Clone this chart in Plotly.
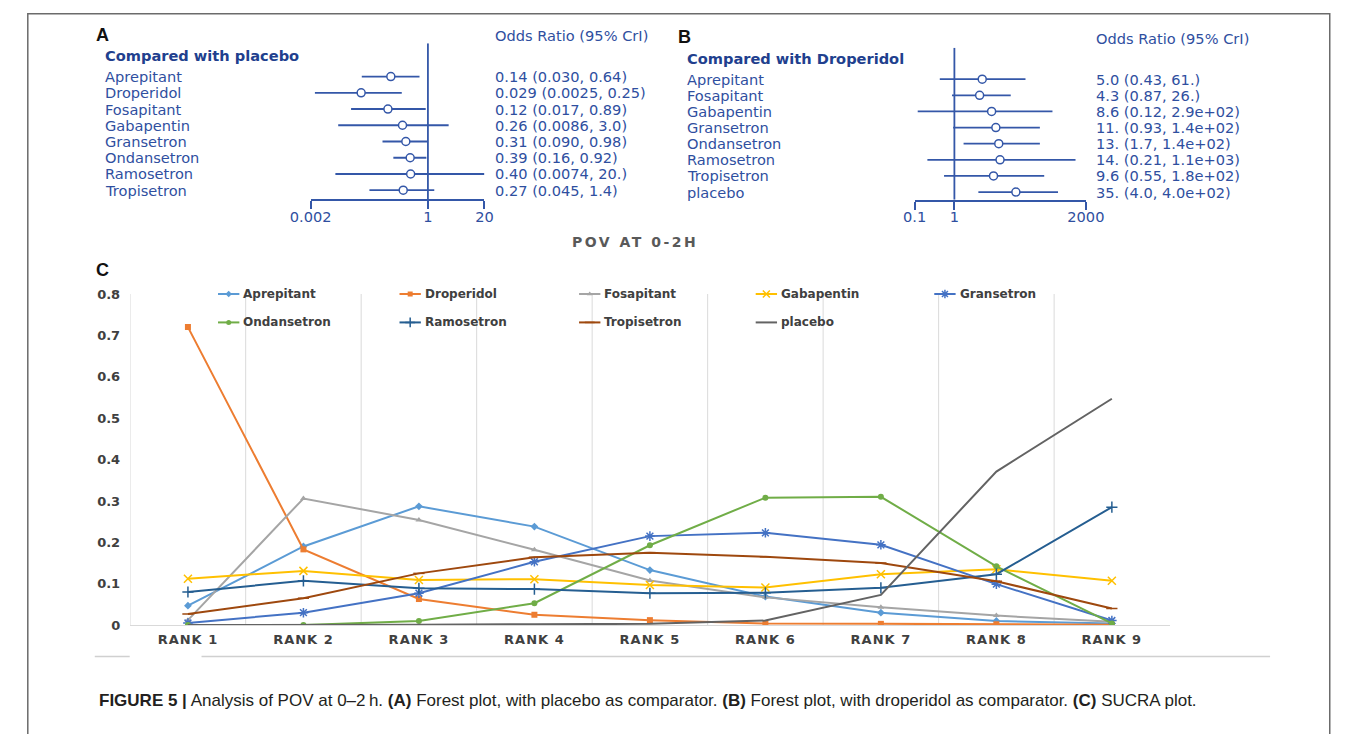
import plotly.graph_objects as go

W, H = 1357, 734

# ---------------- Panel A: odds ratios, placebo as comparator ----------------
a_drugs = ["Aprepitant", "Droperidol", "Fosapitant", "Gabapentin",
           "Gransetron", "Ondansetron", "Ramosetron", "Tropisetron"]
a_or = [0.14, 0.029, 0.12, 0.26, 0.31, 0.39, 0.40, 0.27]
a_lo = [0.030, 0.0025, 0.017, 0.0086, 0.090, 0.16, 0.0074, 0.045]
a_hi = [0.64, 0.25, 0.89, 3.0, 0.98, 0.92, 20.0, 1.4]
a_text = ["0.14 (0.030, 0.64)", "0.029 (0.0025, 0.25)", "0.12 (0.017, 0.89)",
          "0.26 (0.0086, 3.0)", "0.31 (0.090, 0.98)", "0.39 (0.16, 0.92)",
          "0.40 (0.0074, 20.)", "0.27 (0.045, 1.4)"]
a_ticks = [0.002, 1, 20]
a_ticktext = ["0.002", "1", "20"]

# ---------------- Panel B: odds ratios, droperidol as comparator -------------
b_drugs = ["Aprepitant", "Fosapitant", "Gabapentin", "Gransetron",
           "Ondansetron", "Ramosetron", "Tropisetron", "placebo"]
b_or = [5.0, 4.3, 8.6, 11.0, 13.0, 14.0, 9.6, 35.0]
b_lo = [0.43, 0.87, 0.12, 0.93, 1.7, 0.21, 0.55, 4.0]
b_hi = [61.0, 26.0, 290.0, 140.0, 140.0, 1100.0, 180.0, 400.0]
b_text = ["5.0 (0.43, 61.)", "4.3 (0.87, 26.)", "8.6 (0.12, 2.9e+02)",
          "11. (0.93, 1.4e+02)", "13. (1.7, 1.4e+02)", "14. (0.21, 1.1e+03)",
          "9.6 (0.55, 1.8e+02)", "35. (4.0, 4.0e+02)"]
b_ticks = [0.1, 1, 2000]
b_ticktext = ["0.1", "1", "2000"]

# ---------------- Panel C: rank probabilities (SUCRA) ------------------------
ranks = ["RANK 1", "RANK 2", "RANK 3", "RANK 4", "RANK 5",
         "RANK 6", "RANK 7", "RANK 8", "RANK 9"]
aprepitant = [0.047, 0.190, 0.287, 0.238, 0.133, 0.069, 0.030, 0.010, 0.004]
droperidol = [0.720, 0.183, 0.063, 0.025, 0.012, 0.004, 0.003, 0.002, 0.001]
fosapitant = [0.012, 0.306, 0.254, 0.182, 0.108, 0.067, 0.043, 0.023, 0.008]
gabapentin = [0.112, 0.131, 0.109, 0.111, 0.097, 0.091, 0.123, 0.135, 0.107]
gransetron = [0.005, 0.030, 0.077, 0.153, 0.215, 0.223, 0.194, 0.099, 0.011]
ondansetron = [0.000, 0.000, 0.010, 0.053, 0.193, 0.308, 0.310, 0.142, 0.004]
ramosetron = [0.080, 0.107, 0.089, 0.087, 0.077, 0.078, 0.090, 0.123, 0.285]
tropisetron = [0.027, 0.065, 0.125, 0.164, 0.175, 0.165, 0.150, 0.106, 0.040]
placebo = [0.000, 0.000, 0.001, 0.002, 0.003, 0.011, 0.073, 0.371, 0.547]
y_ticks = [0, 0.1, 0.2, 0.3, 0.4, 0.5, 0.6, 0.7, 0.8]
y_ticktext = ["0", "0.1", "0.2", "0.3", "0.4", "0.5", "0.6", "0.7", "0.8"]

series = [
    ("Aprepitant", aprepitant, "#5b9bd5", "diamond"),
    ("Droperidol", droperidol, "#ed7d31", "square"),
    ("Fosapitant", fosapitant, "#a5a5a5", "triangle-up"),
    ("Gabapentin", gabapentin, "#ffc000", "x-thin-open"),
    ("Gransetron", gransetron, "#4472c4", "asterisk-open"),
    ("Ondansetron", ondansetron, "#70ad47", "circle"),
    ("Ramosetron", ramosetron, "#255e91", "cross-thin-open"),
    ("Tropisetron", tropisetron, "#9e480e", "line-ew-open"),
    ("placebo", placebo, "#636363", None),
]


def px(x):
    return x / W


def py(y):
    return 1 - y / H


FOREST_BLUE = "#3457a8"
TEXT_BLUE = "#2f4f9f"
TITLE_BLUE = "#213f8e"
GRAY_TXT = "#404040"
FOREST_FONT = "DejaVu Sans"
FOREST_SIZE = 14.6

fig = go.Figure()
annotations = []
shapes = []


def forest(xa, ya, drugs, orv, lo, hi, texts, label_x, value_x):
    n = len(drugs)
    rows = [-i for i in range(n)]
    seg_x, seg_y = [], []
    for r, l, h in zip(rows, lo, hi):
        seg_x += [l, h, None]
        seg_y += [r, r, None]
    fig.add_trace(go.Scatter(x=seg_x, y=seg_y, mode="lines", xaxis=xa, yaxis=ya,
                             line=dict(color=FOREST_BLUE, width=1.8),
                             showlegend=False, hoverinfo="skip"))
    fig.add_trace(go.Scatter(x=orv, y=rows, mode="markers", xaxis=xa, yaxis=ya,
                             marker=dict(symbol="circle", size=8, color="white",
                                         line=dict(color=FOREST_BLUE, width=1.5)),
                             showlegend=False, hoverinfo="skip"))
    for r, d, t in zip(rows, drugs, texts):
        annotations.append(dict(x=px(label_x), xref="paper", y=r, yref=ya,
                                text=d, showarrow=False, xanchor="left",
                                yanchor="middle",
                                font=dict(family=FOREST_FONT, size=FOREST_SIZE, color=TEXT_BLUE)))
        annotations.append(dict(x=px(value_x), xref="paper", y=r, yref=ya,
                                text=t, showarrow=False, xanchor="left",
                                yanchor="middle",
                                font=dict(family=FOREST_FONT, size=FOREST_SIZE, color=TEXT_BLUE)))


# Panel A
forest("x", "y", a_drugs, a_or, a_lo, a_hi, a_text, 85, 486)
a_ytop, a_ybot = 2.05, -7.57
fig.add_trace(go.Scatter(x=[1, 1], y=[a_ytop, a_ybot], mode="lines", xaxis="x", yaxis="y",
                         line=dict(color=FOREST_BLUE, width=1.8),
                         showlegend=False, hoverinfo="skip"))
# Panel B
forest("x2", "y2", b_drugs, b_or, b_lo, b_hi, b_text, 684.5, 1105.5)
b_ytop, b_ybot = 1.955, -7.47
fig.add_trace(go.Scatter(x=[1, 1], y=[b_ytop, b_ybot], mode="lines", xaxis="x2", yaxis="y2",
                         line=dict(color=FOREST_BLUE, width=1.8),
                         showlegend=False, hoverinfo="skip"))

# Panel C lines
for name, vals, color, sym in series:
    if sym is None:
        fig.add_trace(go.Scatter(x=list(range(len(ranks))), y=vals, mode="lines",
                                 xaxis="x3", yaxis="y3", name=name,
                                 line=dict(color=color, width=2),
                                 showlegend=False, hoverinfo="skip"))
    else:
        open_sym = sym.endswith("-open")
        fig.add_trace(go.Scatter(x=list(range(len(ranks))), y=vals, mode="lines+markers",
                                 xaxis="x3", yaxis="y3", name=name,
                                 line=dict(color=color, width=2),
                                 marker=dict(symbol=sym, size=8 if open_sym else 6,
                                             color=color,
                                             line=dict(color=color, width=1.5 if open_sym else 0)),
                                 showlegend=False, hoverinfo="skip"))

# vertical gridlines between rank bands
for k in range(len(ranks)):
    shapes.append(dict(type="line", xref="x3", yref="y3 domain", x0=k - 0.5, x1=k - 0.5,
                       y0=0, y1=1, line=dict(color="#dadada", width=1), layer="below"))

# legend drawn on a pixel-space overlay
leg_cols = [203, 390, 575, 757, 941]
leg_rows = [293, 322]
for i, (name, vals, color, sym) in enumerate(series):
    col = leg_cols[i % 5]
    row = leg_rows[i // 5]
    fig.add_trace(go.Scatter(x=[col, col + 22], y=[row, row], mode="lines",
                             xaxis="x4", yaxis="y4", line=dict(color=color, width=2),
                             showlegend=False, hoverinfo="skip"))
    if sym is not None:
        open_sym = sym.endswith("-open")
        fig.add_trace(go.Scatter(x=[col + 11], y=[row], mode="markers",
                                 xaxis="x4", yaxis="y4",
                                 marker=dict(symbol=sym, size=7 if open_sym else 5, color=color,
                                             line=dict(color=color, width=1.5 if open_sym else 0)),
                                 showlegend=False, hoverinfo="skip"))
    annotations.append(dict(x=px(col + 24), y=py(row), xref="paper", yref="paper",
                            text=name, showarrow=False, xanchor="left", yanchor="middle",
                            font=dict(family="DejaVu Sans", size=12, color=GRAY_TXT,
                                      weight="bold")))

# panel letters, headers
for letter, x, y in [("A", 84, 29), ("B", 684, 31), ("C", 84, 268)]:
    annotations.append(dict(x=px(x), y=py(y), xref="paper", yref="paper", text=letter,
                            showarrow=False, xanchor="center", yanchor="middle",
                            font=dict(family="Liberation Sans", size=18, color="#111111",
                                      weight="bold")))
for txt, x, y in [("Compared with placebo", 85, 50), ("Compared with Droperidol", 684.5, 53)]:
    annotations.append(dict(x=px(x), y=py(y), xref="paper", yref="paper", text=txt,
                            showarrow=False, xanchor="left", yanchor="middle",
                            font=dict(family=FOREST_FONT, size=FOREST_SIZE, color=TITLE_BLUE,
                                      weight="bold")))
for x, y in [(486, 29), (1105.5, 32)]:
    annotations.append(dict(x=px(x), y=py(y), xref="paper", yref="paper",
                            text="Odds Ratio (95% CrI)", showarrow=False,
                            xanchor="left", yanchor="middle",
                            font=dict(family=FOREST_FONT, size=FOREST_SIZE, color=TEXT_BLUE)))
annotations.append(dict(x=px(633), y=py(240), xref="paper", yref="paper",
                        text='<span style="letter-spacing:2.5px">POV AT 0-2H</span>',
                        showarrow=False, xanchor="center", yanchor="middle",
                        font=dict(family="DejaVu Sans", size=14, color="#595959",
                                  weight="bold")))

# caption
annotations.append(dict(
    x=px(78), y=py(708), xref="paper", yref="paper", showarrow=False,
    xanchor="left", yanchor="middle",
    text=("<b>FIGURE 5 |</b> Analysis of POV at 0\u20132\u2009h. <b>(A)</b> Forest plot, with placebo as "
          "comparator. <b>(B)</b> Forest plot, with droperidol as comparator. "
          "<b>(C)</b> SUCRA plot."),
    font=dict(family="Liberation Sans", size=17, color="#231f20")))

# frame and underline of the SUCRA chart area
shapes.append(dict(type="rect", xref="paper", yref="paper", x0=px(7), x1=px(1348.5),
                   y0=py(760), y1=py(7), line=dict(color="#6b6b6b", width=1.5)))
shapes.append(dict(type="line", xref="paper", yref="paper", x0=px(76), x1=px(112),
                   y0=py(663), y1=py(663), line=dict(color="#d0d0d0", width=1.5)))
shapes.append(dict(type="line", xref="paper", yref="paper", x0=px(186), x1=px(1287),
                   y0=py(663), y1=py(663), line=dict(color="#d0d0d0", width=1.5)))

forest_axis = dict(type="log", showline=True, linecolor=FOREST_BLUE, linewidth=1.8,
                   ticks="outside", ticklen=8, tickwidth=1.8, tickcolor=FOREST_BLUE,
                   showgrid=False, zeroline=False, fixedrange=True, ticklabelstandoff=-5,
                   tickfont=dict(family=FOREST_FONT, size=FOREST_SIZE, color=TEXT_BLUE))
hidden = dict(visible=False, fixedrange=True, showgrid=False, zeroline=False)

rank_text = ['<span style="letter-spacing:1px">%s</span>' % r for r in ranks]

fig.update_layout(
    width=W, height=H, margin=dict(l=0, r=0, t=0, b=0),
    paper_bgcolor="white", plot_bgcolor="rgba(0,0,0,0)",
    showlegend=False,
    xaxis=dict(forest_axis, domain=[px(298.5), px(477.5)],
               range=[-2.69897, 1.30103], tickvals=a_ticks, ticktext=a_ticktext,
               anchor="y"),
    yaxis=dict(hidden, domain=[py(196.5), py(37)], range=[a_ybot, a_ytop], anchor="x"),
    xaxis2=dict(forest_axis, domain=[px(920.7), px(1097.2)],
                range=[-1, 3.30103], tickvals=b_ticks, ticktext=b_ticktext,
                anchor="y2"),
    yaxis2=dict(hidden, domain=[py(196.7), py(41.5)], range=[b_ybot, b_ytop], anchor="x2"),
    xaxis3=dict(domain=[px(112.5), px(1183.5)], range=[-0.5, 8.5], anchor="y3",
                tickvals=list(range(len(ranks))), ticktext=rank_text, ticks="",
                showline=True, linecolor="#d9d9d9", linewidth=1.2,
                showgrid=False, zeroline=False, fixedrange=True, ticklabelstandoff=2,
                tickfont=dict(family="DejaVu Sans", size=13, color=GRAY_TXT, weight="bold")),
    yaxis3=dict(domain=[py(631), py(293)], range=[0, 0.8], anchor="x3",
                tickvals=y_ticks, ticktext=y_ticktext, ticks="", showline=False,
                showgrid=False, zeroline=False, fixedrange=True, ticklabelstandoff=9,
                tickfont=dict(family="DejaVu Sans", size=13, color=GRAY_TXT, weight="bold")),
    xaxis4=dict(hidden, domain=[0, 1], range=[0, W], anchor="y4"),
    yaxis4=dict(hidden, domain=[0, 1], range=[H, 0], anchor="x4"),
    annotations=annotations,
    shapes=shapes,
)

fig.write_html("out.html")
